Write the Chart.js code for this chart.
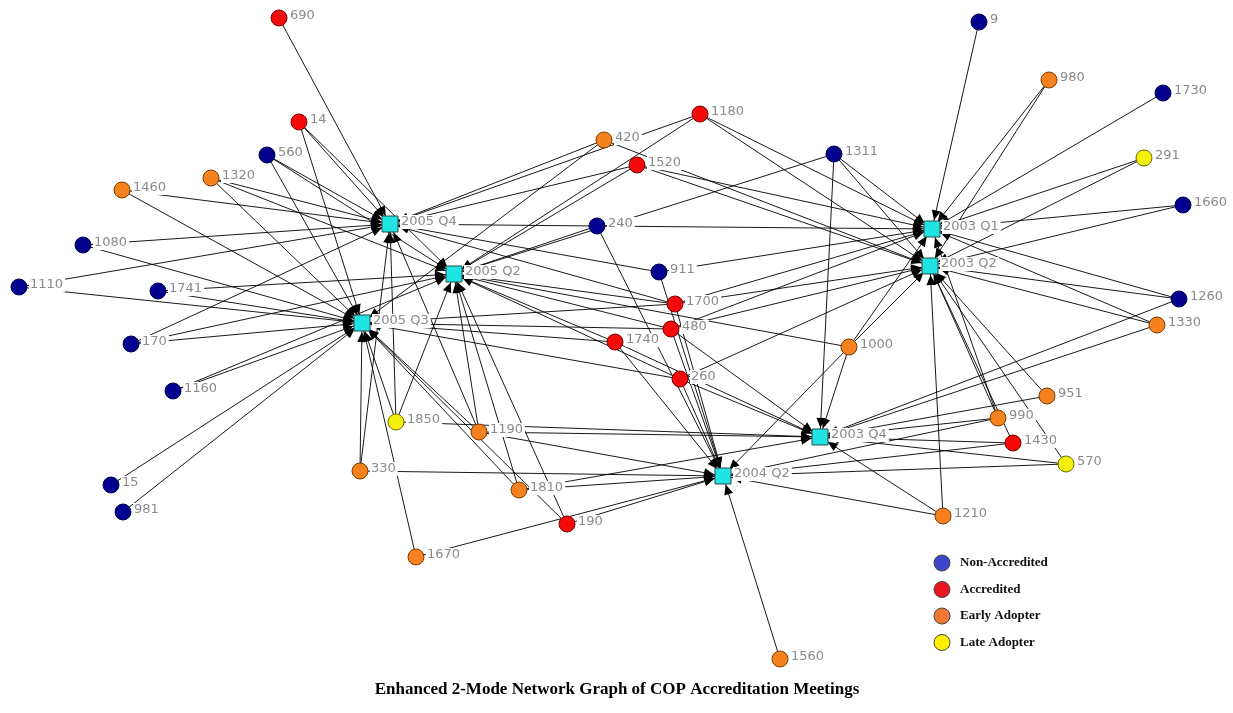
<!DOCTYPE html>
<html>
<head>
<meta charset="utf-8">
<script src="https://cdn.jsdelivr.net/npm/chart.js@4"></script>
<style>
  html, body { margin: 0; padding: 0; background: #fff; }
  #wrap { width: 1233px; height: 713px; }
</style>
</head>
<body>
<div id="wrap"><canvas id="net" width="1233" height="713"></canvas></div>
<script>
// ===================== DATA =====================

// meeting nodes (mode 2) - layout position
const meetingNames = ['2005 Q4', '2005 Q2', '2005 Q3', '2003 Q1', '2003 Q2', '2003 Q4', '2004 Q2'];
const meetingX = [390, 454, 362, 932, 930, 820, 723];
const meetingY = [224, 274, 323, 229, 266, 437, 476];

// actor nodes (mode 1)
const actorIds = ['690', '14', '560', '1320', '1460', '1080', '1110', '1741', '170', '1160', '15', '981',
  '1850', '330', '1670', '1190', '1810', '190', '420', '1180', '1520', '240', '911', '1700', '480',
  '1740', '260', '1000', '1311', '9', '980', '1730', '291', '1660', '1260', '1330', '951', '990',
  '1430', '570', '1210', '1560'];
const actorX = [279, 299, 267, 211, 122, 83, 19, 158, 131, 173, 111, 123,
  396, 360, 416, 479, 519, 567, 604, 700, 637, 597, 659, 675, 671,
  615, 680, 849, 834, 979, 1049, 1163, 1144, 1183, 1179, 1157, 1047, 998,
  1013, 1066, 943, 780];
const actorY = [18, 122, 155, 178, 190, 245, 287, 291, 344, 391, 485, 512,
  422, 471, 557, 432, 490, 524, 140, 114, 165, 226, 272, 304, 329,
  342, 379, 347, 154, 22, 80, 93, 158, 205, 299, 325, 396, 418,
  443, 464, 516, 659];
// N = Non-Accredited, A = Accredited, E = Early Adopter, L = Late Adopter
const actorGroup = ['A', 'A', 'N', 'E', 'E', 'N', 'N', 'N', 'N', 'N', 'N', 'N',
  'L', 'E', 'E', 'E', 'E', 'A', 'E', 'A', 'A', 'N', 'N', 'A', 'A',
  'A', 'A', 'E', 'N', 'N', 'E', 'N', 'L', 'N', 'N', 'E', 'E', 'E',
  'A', 'L', 'E', 'E'];

// attendance: actor -> meetings
const attendance = [
  ['690', ['2005 Q4']],
  ['14', ['2005 Q4', '2005 Q2', '2005 Q3']],
  ['560', ['2005 Q4', '2005 Q2', '2005 Q3']],
  ['1320', ['2005 Q4', '2005 Q2', '2005 Q3']],
  ['1460', ['2005 Q4', '2005 Q3']],
  ['1080', ['2005 Q4', '2005 Q3']],
  ['1110', ['2005 Q4', '2005 Q3']],
  ['1741', ['2005 Q2', '2005 Q3']],
  ['170', ['2005 Q4', '2005 Q3', '2005 Q2']],
  ['1160', ['2005 Q3', '2005 Q2']],
  ['15', ['2005 Q3']],
  ['981', ['2005 Q3']],
  ['1850', ['2005 Q2', '2005 Q3', '2005 Q4', '2003 Q4']],
  ['330', ['2005 Q3', '2005 Q4', '2004 Q2']],
  ['1670', ['2005 Q3', '2004 Q2']],
  ['1190', ['2005 Q2', '2005 Q3', '2005 Q4', '2004 Q2', '2003 Q4']],
  ['1810', ['2005 Q2', '2005 Q3', '2004 Q2', '2003 Q4']],
  ['190', ['2005 Q2', '2005 Q3', '2004 Q2']],
  ['420', ['2005 Q4', '2005 Q3', '2003 Q2']],
  ['1180', ['2005 Q4', '2005 Q2', '2003 Q1', '2003 Q2']],
  ['1520', ['2005 Q4', '2005 Q2', '2003 Q1', '2003 Q2']],
  ['240', ['2005 Q4', '2005 Q2', '2003 Q1', '2004 Q2']],
  ['911', ['2005 Q4', '2003 Q1', '2004 Q2']],
  ['1700', ['2005 Q2', '2005 Q4', '2005 Q3', '2003 Q1', '2003 Q2', '2004 Q2']],
  ['480', ['2005 Q2', '2005 Q3', '2003 Q1', '2003 Q2', '2004 Q2', '2003 Q4']],
  ['1740', ['2005 Q2', '2005 Q3', '2004 Q2', '2003 Q4']],
  ['260', ['2005 Q2', '2005 Q3', '2003 Q2', '2003 Q4', '2004 Q2']],
  ['1000', ['2005 Q2', '2003 Q1', '2003 Q2', '2003 Q4', '2004 Q2']],
  ['1311', ['2005 Q2', '2003 Q1', '2003 Q2', '2003 Q4']],
  ['9', ['2003 Q1']],
  ['980', ['2003 Q1', '2003 Q2']],
  ['1730', ['2003 Q1']],
  ['291', ['2003 Q1', '2003 Q2']],
  ['1660', ['2003 Q1', '2003 Q2']],
  ['1260', ['2003 Q1', '2003 Q2', '2003 Q4']],
  ['1330', ['2003 Q1', '2003 Q2', '2003 Q4']],
  ['951', ['2003 Q2', '2003 Q4']],
  ['990', ['2003 Q2', '2003 Q1', '2003 Q4', '2004 Q2']],
  ['1430', ['2003 Q2', '2003 Q4', '2004 Q2']],
  ['570', ['2003 Q2', '2003 Q4', '2004 Q2']],
  ['1210', ['2003 Q2', '2003 Q4', '2004 Q2']],
  ['1560', ['2004 Q2']]
];

const groupCodes = ['N', 'A', 'E', 'L'];
const groupNames = ['Non-Accredited', 'Accredited', 'Early Adopter', 'Late Adopter'];
const chartTitle = 'Enhanced 2-Mode Network Graph of COP Accreditation Meetings';

// ===================== STYLE =====================

const nodeFill = { N: '#00008c', A: '#f50a0a', E: '#f5821e', L: '#f5f00a' };
const nodeBorder = { N: '#000050', A: '#7a0000', E: '#7a3a00', L: '#6a6a00' };
const legendFill = ['#3c46cc', '#e8141e', '#f07832', '#fff000'];
const labelColor = '#8a8a8a';
const labelFont = '13px "DejaVu Sans", Tahoma, sans-serif';

// ===================== BUILD =====================

function posOf(name) {
  let i = meetingNames.indexOf(name);
  if (i >= 0) return { x: meetingX[i], y: meetingY[i], meeting: true };
  i = actorIds.indexOf(name);
  return { x: actorX[i], y: actorY[i], meeting: false };
}

const datasets = groupCodes.map(code => {
  const pts = [];
  actorIds.forEach((id, i) => {
    if (actorGroup[i] === code) pts.push({ x: actorX[i], y: actorY[i], label: id });
  });
  return {
    label: code,
    data: pts,
    pointStyle: 'circle',
    pointRadius: 8,
    pointBackgroundColor: nodeFill[code],
    pointBorderColor: nodeBorder[code],
    pointBorderWidth: 1,
    labelGap: 11
  };
});

datasets.push({
  label: 'meetings',
  data: meetingNames.map((m, i) => ({ x: meetingX[i], y: meetingY[i], label: m })),
  pointStyle: 'rect',
  pointRadius: 11.3,
  pointBackgroundColor: '#20e4e4',
  pointBorderColor: '#2a4a4a',
  pointBorderWidth: 1,
  labelGap: 11
});

// lines and arrow heads between actors and meetings
const edgePlugin = {
  id: 'edges',
  beforeDatasetsDraw(chart) {
    const ctx = chart.ctx;
    const sx = chart.scales.x, sy = chart.scales.y;
    ctx.save();
    ctx.strokeStyle = 'rgba(0,0,0,0.9)';
    ctx.fillStyle = '#000';
    ctx.lineWidth = 1;
    attendance.forEach(([actor, meetings]) => {
      const a = posOf(actor);
      const ax = sx.getPixelForValue(a.x), ay = sy.getPixelForValue(a.y);
      meetings.forEach(m => {
        const b = posOf(m);
        const bx = sx.getPixelForValue(b.x), by = sy.getPixelForValue(b.y);
        ctx.beginPath();
        ctx.moveTo(ax, ay);
        ctx.lineTo(bx, by);
        ctx.stroke();
        // arrow at meeting side
        const ang = Math.atan2(by - ay, bx - ax);
        const tipX = bx - Math.cos(ang) * 9, tipY = by - Math.sin(ang) * 9;
        const len = 10, half = 4.5;
        const baseX = tipX - Math.cos(ang) * len, baseY = tipY - Math.sin(ang) * len;
        ctx.beginPath();
        ctx.moveTo(tipX, tipY);
        ctx.lineTo(baseX + Math.sin(ang) * half, baseY - Math.cos(ang) * half);
        ctx.lineTo(baseX - Math.sin(ang) * half, baseY + Math.cos(ang) * half);
        ctx.closePath();
        ctx.fill();
      });
    });
    ctx.restore();
  }
};

// node labels (on white boxes), legend and caption
const textPlugin = {
  id: 'texts',
  afterDatasetsDraw(chart) {
    const ctx = chart.ctx;
    ctx.save();
    ctx.font = labelFont;
    ctx.textBaseline = 'middle';
    ctx.textAlign = 'left';
    chart.data.datasets.forEach((ds, di) => {
      const meta = chart.getDatasetMeta(di);
      meta.data.forEach((el, i) => {
        const txt = ds.data[i].label;
        const tx = el.x + ds.labelGap, ty = el.y - 2;
        const w = ctx.measureText(txt).width;
        ctx.fillStyle = '#fff';
        ctx.fillRect(tx - 1, ty - 7, w + 3, 14);
        ctx.fillStyle = labelColor;
        ctx.fillText(txt, tx, ty);
      });
    });

    // legend
    const lx = 942, ly = 563, step = 26.5;
    groupNames.forEach((name, i) => {
      const y = ly + i * step;
      ctx.beginPath();
      ctx.arc(lx, y, 8, 0, Math.PI * 2);
      ctx.fillStyle = legendFill[i];
      ctx.fill();
      ctx.strokeStyle = '#444';
      ctx.lineWidth = 1;
      ctx.stroke();
      ctx.fillStyle = '#111';
      ctx.font = 'bold 13px "Liberation Serif", "Times New Roman", serif';
      ctx.fillText(name, lx + 18, y);
    });

    // caption
    ctx.font = 'bold 17px "Liberation Serif", "Times New Roman", serif';
    ctx.fillStyle = '#000';
    ctx.textAlign = 'center';
    ctx.fillText(chartTitle, 617, 690);
    ctx.restore();
  }
};

new Chart(document.getElementById('net'), {
  type: 'scatter',
  data: { datasets },
  options: {
    responsive: false,
    animation: false,
    layout: { padding: 0, autoPadding: false },
    plugins: {
      legend: { display: false },
      tooltip: { enabled: false },
      title: { display: false }
    },
    scales: {
      x: { type: 'linear', min: 0, max: 1233, display: false },
      y: { type: 'linear', min: 0, max: 713, reverse: true, display: false }
    }
  },
  plugins: [edgePlugin, textPlugin]
});
</script>
</body>
</html>
